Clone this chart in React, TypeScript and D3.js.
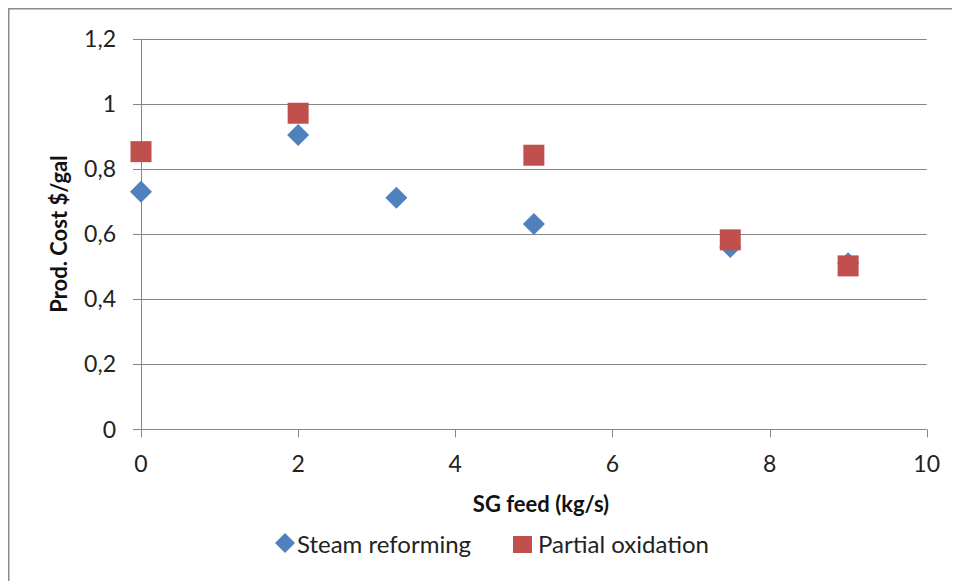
import React from "react";
import * as d3 from "d3";

const seriesNames = ["Steam reforming", "Partial oxidation"];
const steamX = [0, 2, 3.25, 5, 7.5, 9];
const steamY = [0.73, 0.904, 0.711, 0.631, 0.56, 0.51];
const partialX = [0, 2, 5, 7.5, 9];
const partialY = [0.853, 0.971, 0.842, 0.582, 0.502];
const xTicks = [0, 2, 4, 6, 8, 10];
const yTicks = [0, 0.2, 0.4, 0.6, 0.8, 1, 1.2];
const xTitle = "SG feed (kg/s)";
const yTitle = "Prod. Cost $/gal";

const BLUE = "#4F81BD";
const RED = "#C0504D";
const GRID = "#868686";
const FONT = "Lato, 'Open Sans', sans-serif";

export default function App() {
  const W = 952;
  const H = 573;
  // svg sits at (8,8) because of body margin; coordinates below are page - 8
  const x = d3.scaleLinear().domain([0, 10]).range([133, 918.7]);
  const y = d3.scaleLinear().domain([0, 1.2]).range([421.3, 30.7]);
  const fmt = (v: number) => d3.format("~g")(v).replace(".", ",");
  const diamond = (cx: number, cy: number, r: number) =>
    `M${cx},${cy - r}L${cx + r},${cy}L${cx},${cy + r}L${cx - r},${cy}Z`;

  const steam = steamX.map((v, i) => ({ x: v, y: steamY[i] }));
  const partial = partialX.map((v, i) => ({ x: v, y: partialY[i] }));

  return (
    <svg width={W} height={H} style={{ display: "block", background: "#fff" }}>
      <rect x={0.5} y={0.5} width={W + 20} height={H + 20} fill="#fff" stroke="#8c8c8c" strokeWidth={2} />
      {/* gridlines and y ticks */}
      {yTicks.map((t) => (
        <g key={"y" + t}>
          <line x1={x(0) - 8} x2={x(10)} y1={Math.round(y(t)) + 0.5} y2={Math.round(y(t)) + 0.5} stroke={GRID} strokeWidth={1} />
          <text x={x(0) - 25} y={y(t)} dy="0.36em" textAnchor="end" fontFamily={FONT} fontSize={23} fill="#222">
            {fmt(t)}
          </text>
        </g>
      ))}
      {/* y axis line */}
      <line x1={Math.round(x(0)) + 0.5} x2={Math.round(x(0)) + 0.5} y1={y(1.2)} y2={y(0)} stroke={GRID} strokeWidth={1} />
      {/* x ticks */}
      {xTicks.map((t) => (
        <g key={"x" + t}>
          <line x1={Math.round(x(t)) + 0.5} x2={Math.round(x(t)) + 0.5} y1={y(0)} y2={y(0) + 8} stroke={GRID} strokeWidth={1} />
          <text x={x(t)} y={y(0) + 43} textAnchor="middle" fontFamily={FONT} fontSize={23} fill="#222">
            {fmt(t)}
          </text>
        </g>
      ))}
      {/* series */}
      {steam.map((d, i) => (
        <path key={"s" + i} d={diamond(x(d.x), y(d.y), 11)} fill={BLUE} />
      ))}
      {partial.map((d, i) => (
        <rect key={"p" + i} x={x(d.x) - 10.5} y={y(d.y) - 10.5} width={21} height={21} fill={RED} />
      ))}
      {/* axis titles */}
      <text x={533} y={504} textAnchor="middle" fontFamily={FONT} fontSize={22} fontWeight="bold" fill="#111">
        {xTitle}
      </text>
      <text
        transform={`translate(51,${(y(0) + y(1.2)) / 2}) rotate(-90)`}
        textAnchor="middle"
        dy="0.36em"
        fontFamily={FONT}
        fontSize={22}
        fontWeight="bold"
        fill="#111"
      >
        {yTitle}
      </text>
      {/* legend */}
      <path d={diamond(277, 535, 10)} fill={BLUE} />
      <text x={289} y={536} dy="0.36em" fontFamily={FONT} fontSize={24} fill="#222">
        {seriesNames[0]}
      </text>
      <rect x={505} y={528} width={19} height={17} fill={RED} />
      <text x={530} y={536} dy="0.36em" fontFamily={FONT} fontSize={24} fill="#222">
        {seriesNames[1]}
      </text>
    </svg>
  );
}
